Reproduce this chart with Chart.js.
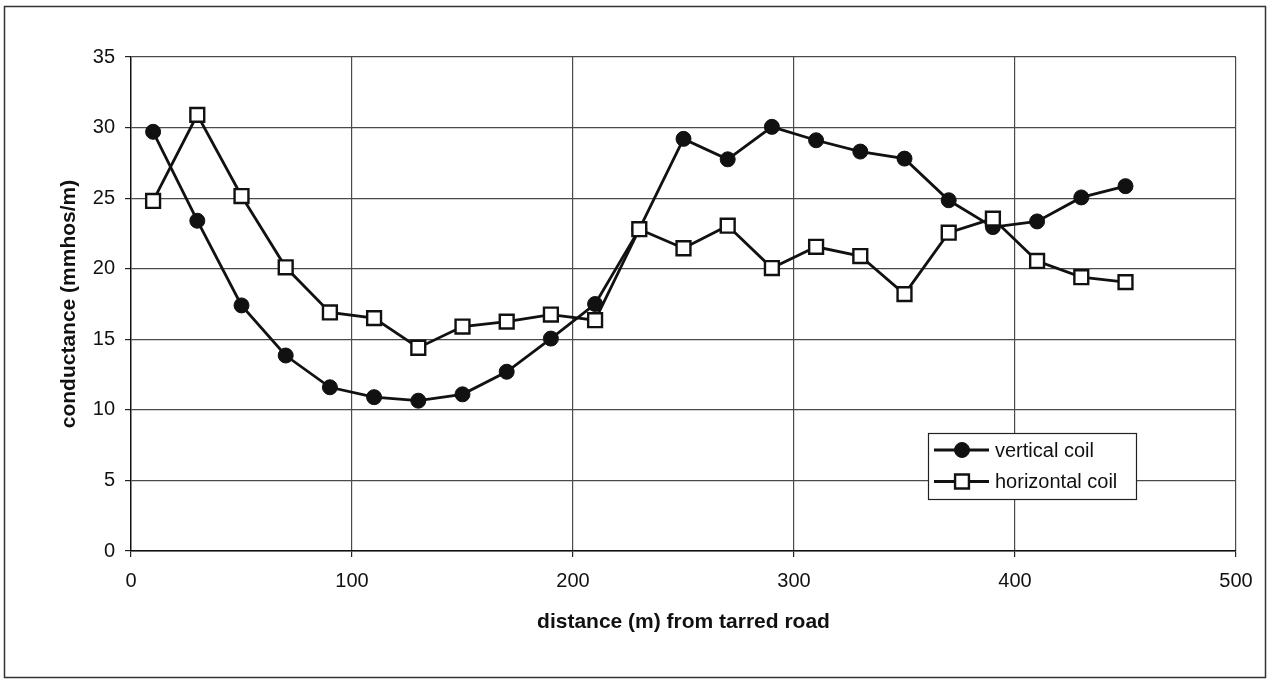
<!DOCTYPE html>
<html>
<head>
<meta charset="utf-8">
<title>conductance vs distance</title>
<script src="https://cdn.jsdelivr.net/npm/chart.js@4.4.1/dist/chart.umd.min.js"></script>
<style>
  html, body { margin: 0; padding: 0; background: #fff; }
  canvas { display: block; }
</style>
</head>
<body>
<canvas id="chart" width="1267" height="679"></canvas>
<script>
// distance from the road (m) and the two coil readings (mmhos/m)
const distances = [10, 30, 50, 70, 90, 110, 130, 150, 170, 190, 210, 230, 250, 270, 290, 310, 330, 350, 370, 390, 410, 430, 450];
const verticalCoil = [29.7, 23.4, 17.4, 13.85, 11.6, 10.9, 10.65, 11.1, 12.7, 15.05, 17.5, 22.8, 29.2, 27.75, 30.05, 29.1, 28.3, 27.8, 24.85, 22.95, 23.35, 25.05, 25.85];
const horizontalCoil = [24.8, 30.9, 25.15, 20.1, 16.9, 16.5, 14.4, 15.9, 16.25, 16.75, 16.35, 22.8, 21.45, 23.05, 20.05, 21.55, 20.9, 18.2, 22.55, 23.55, 20.55, 19.4, 19.05];
const seriesLabels = ['vertical coil', 'horizontal coil'];
const xTitle = 'distance (m) from tarred road';
const yTitle = 'conductance (mmhos/m)';

const toPoints = values => values.map((v, i) => ({ x: distances[i], y: v }));

const FONT = "'Liberation Sans', Arial, sans-serif";

// white background + thin frame round the whole figure
const framePlugin = {
    id: 'frame',
    beforeDraw(chart) {
        const ctx = chart.ctx;
        ctx.save();
        ctx.fillStyle = '#fff';
        ctx.fillRect(0, 0, chart.width, chart.height);
        ctx.restore();
    },
    afterDraw(chart) {
        const ctx = chart.ctx;
        ctx.save();
        ctx.strokeStyle = '#333';
        ctx.lineWidth = 1.5;
        ctx.strokeRect(4.5, 6.5, chart.width - 6, chart.height - 8);
        ctx.restore();
    }
};

// legend box sitting inside the plot, lower right
const boxLegendPlugin = {
    id: 'boxLegend',
    afterDatasetsDraw(chart) {
        const { ctx, chartArea } = chart;
        const left = chartArea.right - 308;
        const top = chartArea.bottom - 118;
        const w = 208, h = 66;
        ctx.save();
        ctx.fillStyle = '#fff';
        ctx.fillRect(left, top, w, h);
        ctx.strokeStyle = '#222';
        ctx.lineWidth = 1.2;
        ctx.strokeRect(left + 0.5, top + 0.5, w, h);

        chart.data.datasets.forEach((ds, row) => {
            const cy = top + 17 + row * 31.5;
            const cx = left + 34;
            ctx.strokeStyle = ds.borderColor;
            ctx.lineWidth = ds.borderWidth;
            ctx.beginPath();
            ctx.moveTo(left + 6, cy);
            ctx.lineTo(left + 61, cy);
            ctx.stroke();
            ctx.fillStyle = ds.pointBackgroundColor;
            ctx.strokeStyle = ds.pointBorderColor;
            ctx.lineWidth = ds.pointBorderWidth;
            ctx.beginPath();
            if (ds.pointStyle === 'circle') {
                ctx.arc(cx, cy, ds.pointRadius, 0, Math.PI * 2);
            } else {
                const s = ds.pointRadius * Math.SQRT1_2;
                ctx.rect(cx - s, cy - s, 2 * s, 2 * s);
            }
            ctx.fill();
            ctx.stroke();
            ctx.fillStyle = '#111';
            ctx.font = '20px ' + FONT;
            ctx.textBaseline = 'middle';
            ctx.textAlign = 'left';
            ctx.fillText(ds.label, left + 67, cy + 1);
        });
        ctx.restore();
    }
};

const ctx = document.getElementById('chart').getContext('2d');
new Chart(ctx, {
    type: 'line',
    data: {
        datasets: [
            {
                label: seriesLabels[0],
                data: toPoints(verticalCoil),
                borderColor: '#111',
                borderWidth: 2.8,
                pointStyle: 'circle',
                pointRadius: 7.5,
                pointBackgroundColor: '#111',
                pointBorderColor: '#111',
                pointBorderWidth: 1,
                tension: 0,
                order: 1
            },
            {
                label: seriesLabels[1],
                data: toPoints(horizontalCoil),
                borderColor: '#111',
                borderWidth: 2.8,
                pointStyle: 'rect',
                pointRadius: 9.8,
                pointBackgroundColor: '#fff',
                pointBorderColor: '#111',
                pointBorderWidth: 2.4,
                tension: 0,
                order: 0
            }
        ]
    },
    options: {
        responsive: false,
        animation: false,
        devicePixelRatio: 1,
        layout: { padding: { left: 0, right: 31, top: 57, bottom: 0 } },
        plugins: {
            legend: { display: false },
            tooltip: { enabled: false }
        },
        scales: {
            x: {
                type: 'linear',
                min: 0,
                max: 500,
                ticks: {
                    stepSize: 100,
                    color: '#111',
                    padding: 12,
                    font: { family: FONT, size: 20 }
                },
                grid: { color: '#4a4a4a', lineWidth: 1.2, tickLength: 6, tickColor: '#222' },
                border: { color: '#111', width: 1.4 },
                title: {
                    display: true,
                    text: xTitle,
                    color: '#111',
                    font: { family: FONT, size: 21, weight: 'bold' },
                    padding: { top: 0, bottom: 44 }
                },
                afterFit(scale) { scale.height = 128; }
            },
            y: {
                min: 0,
                max: 35,
                ticks: {
                    stepSize: 5,
                    color: '#111',
                    padding: 10,
                    font: { family: FONT, size: 20 }
                },
                grid: { color: '#4a4a4a', lineWidth: 1.2, tickLength: 6, tickColor: '#222' },
                border: { color: '#111', width: 1.4 },
                title: {
                    display: true,
                    text: yTitle,
                    color: '#111',
                    font: { family: FONT, size: 21, weight: 'bold' },
                    padding: { top: 57, bottom: 0 }
                },
                afterFit(scale) { scale.width = 131; }
            }
        }
    },
    plugins: [framePlugin, boxLegendPlugin]
});
</script>
</body>
</html>
